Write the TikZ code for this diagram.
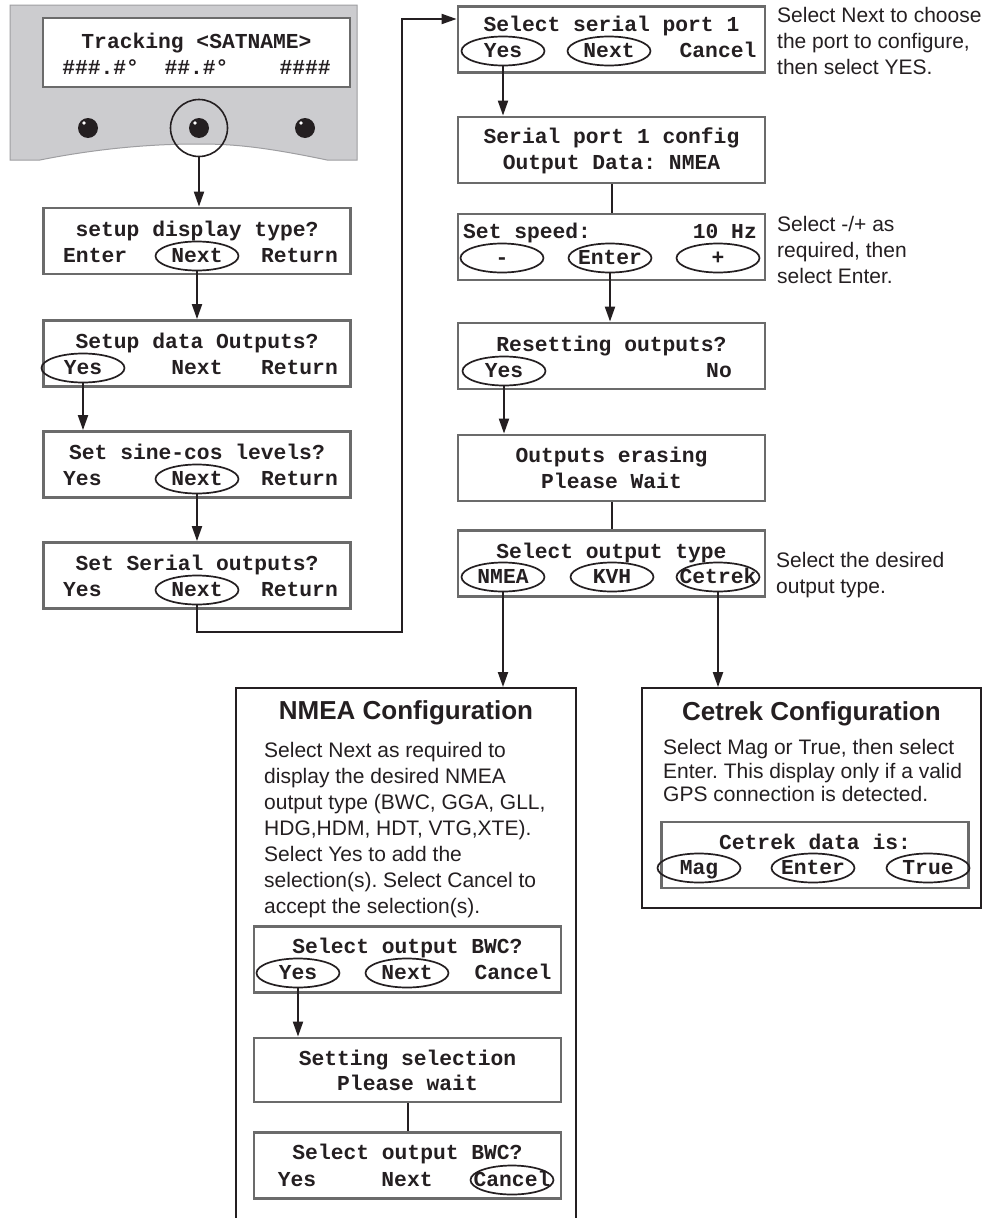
\documentclass[tikz,border=0pt]{standalone}
\usepackage{fontspec}
\setsansfont{Liberation Sans}
\setmonofont{Liberation Mono}
\usepackage{tikz}
\usetikzlibrary{positioning, calc, shapes.geometric, arrows.meta}
\definecolor{PanelColor}{rgb}{0.80,0.80,0.81}
\definecolor{PanelEdge}{rgb}{0.62,0.62,0.63}
\definecolor{LcdEdge}{rgb}{0.42,0.42,0.42}
\definecolor{InkColor}{rgb}{0.14,0.12,0.13}
\frenchspacing
\tikzset{
    lcd/.style={
        shape=rectangle,
        draw=LcdEdge,
        line width=2.8pt,
        fill=white,
        minimum width=307pt,
        minimum height=66pt,
        inner sep=0pt
    },
    lcdtext/.style={font=\fontsize{21.3}{24}\selectfont\ttfamily\bfseries, text=InkColor, inner sep=0pt, text height=12pt, text depth=0pt},
    pick/.style={shape=ellipse, draw=InkColor, line width=1.7pt, minimum width=83pt, minimum height=29pt, inner sep=0pt, label={[lcdtext]center:#1}},
    cfgbox/.style={shape=rectangle, draw=InkColor, line width=1.8pt, inner sep=0pt},
    cfgtitle/.style={font=\fontsize{26}{30}\selectfont\sffamily\bfseries, text=InkColor, inner sep=0pt},
    note/.style={font=\fontsize{21}{25.9}\selectfont\sffamily, text=InkColor, align=left, inner sep=0pt},
    button/.style={shape=circle, fill=InkColor, minimum size=20pt, inner sep=0pt},
    flow/.style={draw=InkColor, line width=2pt, -{Triangle[length=15pt, width=10pt]}},
    link/.style={draw=InkColor, line width=2pt}
}

\begin{document}
\begin{tikzpicture}[x=1pt, y=-1pt]

\fill[white] (0,0) rectangle (991,1218);
\useasboundingbox (0,0) rectangle (991,1218);

% Front panel
\filldraw[fill=PanelColor, draw=PanelEdge, line width=1pt] (10,5) -- (357,5) -- (357,160) -- (327,160)
    .. controls (260,146) and (230,144) .. (198,144)
    .. controls (166,144) and (110,146) .. (40,160) -- (10,160) -- cycle;
\node[lcd, minimum height=69pt] (main_lcd) at (196.5,52.5) {};
\node[lcdtext] (main_l1) at (196.5,42) {Tracking <SATNAME>};
\node[lcdtext] (main_l2) at (196.5,68) {\#\#\#.\#°\ \ \#\#.\#°\ \ \ \ \#\#\#\#};

\foreach \bx/\bn in {88/btn_left, 199/btn_mid, 305/btn_right} {
    \node[button] (\bn) at (\bx,128) {};
    \fill[white] ($(\bn)+(-4,-5)$) circle (1.8pt);
}
\node[draw=InkColor, shape=circle, line width=1.6pt, minimum size=57pt, inner sep=0pt] (btn_ring) at (199,128) {};

% Column 1
\node[lcd] (l_type) at (197,241) {};
\node[lcdtext] (l_type_q) at (197,230) {setup display type?};
\node[lcdtext, anchor=west] (l_type_a) at (63,256) {Enter};
\node[pick=Next] (l_type_next) at (197,256) {};
\node[lcdtext, anchor=east] (l_type_c) at (338,256) {Return};

\node[lcd] (l_data) at (197,353.5) {};
\node[lcdtext] (l_data_q) at (197,342) {Setup data Outputs?};
\node[pick=Yes] (l_data_yes) at (83,368) {};
\node[lcdtext] (l_data_b) at (197,368) {Next};
\node[lcdtext, anchor=east] (l_data_c) at (338,368) {Return};

\node[lcd] (l_sine) at (197,464.5) {};
\node[lcdtext] (l_sine_q) at (197,453) {Set sine-cos levels?};
\node[lcdtext, anchor=west] (l_sine_a) at (63,479) {Yes};
\node[pick=Next] (l_sine_next) at (197,479) {};
\node[lcdtext, anchor=east] (l_sine_c) at (338,479) {Return};

\node[lcd] (l_serial) at (197,575.5) {};
\node[lcdtext] (l_serial_q) at (197,564) {Set Serial outputs?};
\node[lcdtext, anchor=west] (l_serial_a) at (63,590) {Yes};
\node[pick=Next] (l_serial_next) at (197,590) {};
\node[lcdtext, anchor=east] (l_serial_c) at (338,590) {Return};

% Column 2
\node[lcd] (r_port) at (611.5,39.5) {};
\node[lcdtext] (r_port_q) at (611.5,25) {Select serial port 1};
\node[pick=Yes] (r_port_yes) at (503,51) {};
\node[pick=Next] (r_port_next) at (609,51) {};
\node[lcdtext] (r_port_c) at (718,51) {Cancel};
\node[note, anchor=north west] (r_port_note) at (777,7) {Select Next to choose\\the port to configure,\\then select YES.};

\node[lcd] (r_cfg) at (611.5,150) {};
\node[lcdtext] (r_cfg_l1) at (611.5,137) {Serial port 1 config};
\node[lcdtext] (r_cfg_l2) at (611.5,163) {Output Data: NMEA};

\node[lcd] (r_speed) at (611.5,247) {};
\node[lcdtext, anchor=west] (r_speed_q) at (463,232) {Set speed:};
\node[lcdtext, anchor=east] (r_speed_v) at (757,232) {10 Hz};
\node[pick=-] (r_speed_down) at (502,258) {};
\node[pick=Enter] (r_speed_enter) at (610,258) {};
\node[pick=+] (r_speed_up) at (718,258) {};
\node[note, anchor=north west] (r_speed_note) at (777,216) {Select -/+ as\\required, then\\select Enter.};

\node[lcd] (r_reset) at (611.5,356) {};
\node[lcdtext] (r_reset_q) at (611.5,345) {Resetting outputs?};
\node[pick=Yes] (r_reset_yes) at (504,371) {};
\node[lcdtext] (r_reset_no) at (719,371) {No};

\node[lcd] (r_erase) at (611.5,468) {};
\node[lcdtext] (r_erase_l1) at (611.5,456) {Outputs erasing};
\node[lcdtext] (r_erase_l2) at (611.5,482) {Please Wait};

\node[lcd] (r_type) at (611.5,563.5) {};
\node[lcdtext] (r_type_q) at (611.5,552) {Select output type};
\node[pick=NMEA] (r_type_nmea) at (503,577) {};
\node[pick=KVH] (r_type_kvh) at (612,577) {};
\node[pick=Cetrek] (r_type_cetrek) at (718,577) {};
\node[note, anchor=north west] (r_type_note) at (776,552) {Select the desired\\output type.};

% NMEA branch (box runs off the bottom of the page)
\node[cfgbox, minimum width=340pt, minimum height=560pt, anchor=north] (n_cfg) at (406,687) {};
\node[cfgtitle] (n_title) at (406,713) {NMEA Configuration};
\node[note, anchor=north west] (n_text) at (264,742.5) {Select Next as required to\\display the desired NMEA\\output type (BWC, GGA, GLL,\\HDG,HDM, HDT, VTG,XTE).\\Select Yes to add the\\selection(s). Select Cancel to\\accept the selection(s).};

\node[lcd] (n_ask) at (407.5,959.5) {};
\node[lcdtext] (n_ask_q) at (407.5,947.5) {Select output BWC?};
\node[pick=Yes] (n_ask_yes) at (298,973) {};
\node[pick=Next] (n_ask_next) at (407,973) {};
\node[lcdtext] (n_ask_c) at (513,973) {Cancel};

\node[lcd, minimum height=64pt] (n_set) at (407.5,1070) {};
\node[lcdtext] (n_set_l1) at (407.5,1059) {Setting selection};
\node[lcdtext] (n_set_l2) at (407.5,1084) {Please wait};

\node[lcd] (n_done) at (407.5,1165.5) {};
\node[lcdtext] (n_done_q) at (407.5,1153) {Select output BWC?};
\node[lcdtext] (n_done_a) at (297,1180) {Yes};
\node[lcdtext] (n_done_b) at (407,1180) {Next};
\node[pick=Cancel] (n_done_cancel) at (512,1180) {};

% Cetrek branch
\node[cfgbox, minimum width=339pt, minimum height=220pt] (c_cfg) at (811.5,798) {};
\node[cfgtitle] (c_title) at (811.5,714) {Cetrek Configuration};
\node[note, anchor=north west, font=\fontsize{21}{23.7}\selectfont\sffamily] (c_text) at (663,739) {Select Mag or True, then select\\Enter. This display only if a valid\\GPS connection is detected.};

\node[lcd] (c_data) at (815,855) {};
\node[lcdtext] (c_data_q) at (815,843) {Cetrek data is:};
\node[pick=Mag] (c_data_mag) at (699,868) {};
\node[pick=Enter] (c_data_enter) at (813,868) {};
\node[pick=True] (c_data_true) at (928,868) {};

% Arrows
\draw[flow] (btn_ring.south) -- (btn_ring.south |- l_type.north);
\draw[flow] (l_type_next.south) -- (l_type_next.south |- l_data.north);
\draw[flow] (l_data_yes.south) -- (l_data_yes.south |- l_sine.north);
\draw[flow] (l_sine_next.south) -- (l_sine_next.south |- l_serial.north);

\coordinate (loop_low) at (402,632);
\coordinate (loop_top) at (402,19);
\draw[flow] (l_serial_next.south) |- (loop_low) -- (loop_top) -- (loop_top -| r_port.west);

\draw[flow] (r_port_yes.south) -- (r_port_yes.south |- r_cfg.north);
\draw[link] (r_cfg.south) -- (r_speed.north);
\draw[flow] (r_speed_enter.south) -- (r_speed_enter.south |- r_reset.north);
\draw[flow] (r_reset_yes.south) -- (r_reset_yes.south |- r_erase.north);
\draw[link] (r_erase.south) -- (r_type.north);
\draw[flow] (r_type_nmea.south) -- (r_type_nmea.south |- n_cfg.north);
\draw[flow] (r_type_cetrek.south) -- (r_type_cetrek.south |- c_cfg.north);

\draw[flow] (n_ask_yes.south) -- (n_ask_yes.south |- n_set.north);
\draw[link] (n_set.south) -- (n_done.north);

\end{tikzpicture}
\end{document}
